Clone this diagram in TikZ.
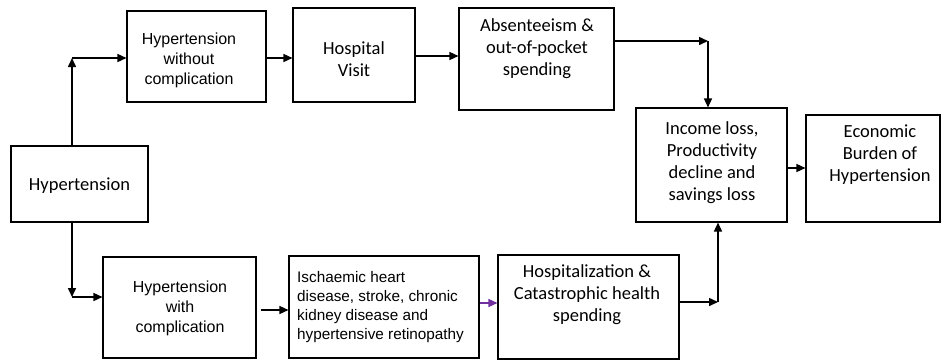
\documentclass[tikz,border=0pt]{standalone}
\usepackage{fontspec}
\setmainfont{Liberation Sans}
\newfontfamily\calfont{Carlito}
\usetikzlibrary{arrows.meta}
\begin{document}
\begin{tikzpicture}[x=1pt,y=-1pt,
  box/.style={draw, line width=1.1pt, inner sep=0pt},
  ar/.style={line width=1.5pt, -{Triangle[length=9pt,width=8pt]}},
  atxt/.style={inner sep=0pt, align=center, font=\fontsize{16}{20}\selectfont},
  ctxt/.style={inner sep=0pt, align=center, font=\calfont\fontsize{18.5}{22}\selectfont}]
\useasboundingbox (0,0) rectangle (942,360);
% boxes
\node[box, minimum width=137pt, minimum height=76pt] (hyp) at (79.5,184) {};
\node[box, minimum width=139pt, minimum height=91pt] (hwo) at (196.5,56.5) {};
\node[box, minimum width=122pt, minimum height=94pt] (hv) at (354,55) {};
\node[box, minimum width=155pt, minimum height=102pt] (abs) at (536.5,59) {};
\node[box, minimum width=151pt, minimum height=114pt] (inc) at (711.5,165) {};
\node[box, minimum width=134pt, minimum height=107pt] (eco) at (873,168.5) {};
\node[box, minimum width=153pt, minimum height=101pt] (hwc) at (179.5,307.5) {};
\node[box, minimum width=190pt, minimum height=102pt] (isc) at (384,307) {};
\node[box, minimum width=181pt, minimum height=104pt] (hos) at (588.5,307) {};
% labels
\node[ctxt] (thyp) at (79.5,186) {Hypertension};
\node[atxt] (thwo) at (189,60) {Hypertension\\without\\complication};
\node[ctxt] (thv) at (354,59) {Hospital\\Visit};
\node[ctxt] (tabs) at (537,49) {Absenteeism \&\\out-of-pocket\\spending};
\node[ctxt] (tinc) at (712,163) {Income loss,\\Productivity\\decline and\\savings loss};
\node[ctxt] (teco) at (880,155) {Economic\\Burden of\\Hypertension};
\node[atxt] (thwc) at (180,308) {Hypertension\\with\\complication};
\node[atxt, align=left, anchor=west, font=\fontsize{15.3}{19}\selectfont] (tisc) at (297,307.5) {Ischaemic heart\\disease, stroke, chronic\\kidney disease and\\hypertensive retinopathy};
\node[ctxt] (thos) at (587,295) {Hospitalization \&\\Catastrophic health\\spending};
% corners
\coordinate (c1) at (72,58);
\coordinate (c2) at (72,297);
\coordinate (c3) at (708,41);
\coordinate (c4) at (718,302);
% connectors
\draw[ar] (c1 |- hyp.north) -- (c1);
\draw[ar] (c1) -- (c1 -| hwo.west);
\draw[ar] (c2 |- hyp.south) -- (c2);
\draw[ar] (c2) -- (c2 -| hwc.west);
\draw[ar] (hwo.east |- 0,58) -- (hv.west |- 0,58);
\draw[ar] (hv.east |- 0,56) -- (abs.west |- 0,56);
\draw[ar] (abs.east |- c3) -- (c3);
\draw[ar] (c3) -- (c3 |- inc.north);
\draw[ar] (hwc.east |- 0,310) ++(4,0) -- (isc.west |- 0,310);
\draw[ar, draw={rgb,255:red,112;green,48;blue,160}, fill={rgb,255:red,112;green,48;blue,160}] (isc.east |- 0,303) -- (hos.west |- 0,303);
\draw[ar] (hos.east |- c4) -- (c4);
\draw[ar] (c4) -- (c4 |- inc.south);
\draw[ar] (inc.east |- 0,168) -- (eco.west |- 0,168);
\end{tikzpicture}
\end{document}
